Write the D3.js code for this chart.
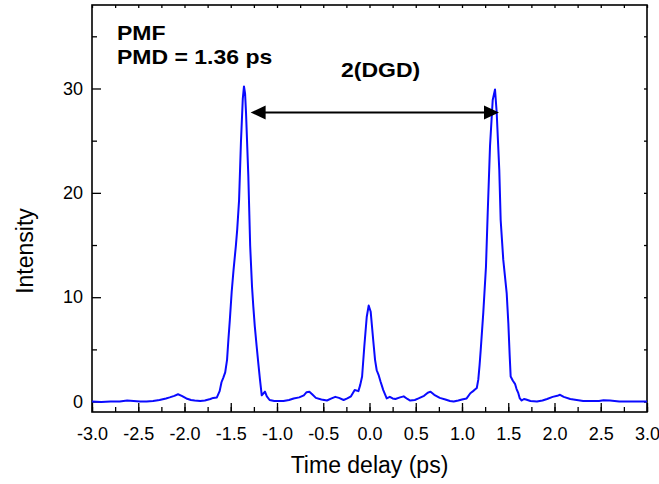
<!DOCTYPE html>
<html>
<head>
<meta charset="utf-8">
<script src="https://cdn.jsdelivr.net/npm/d3@7"></script>
<style>
  body { margin: 0; background: #fff; }
  svg { display: block; font-family: "Liberation Sans", Arial, sans-serif; }
</style>
</head>
<body>
<div id="chart"></div>
<script>
var timeDelay = [
  -3.00, -2.90, -2.80, -2.70, -2.62, -2.55, -2.48, -2.41, -2.34, -2.27,
  -2.20, -2.16, -2.11, -2.07, -2.03, -1.98, -1.93, -1.89, -1.83, -1.78,
  -1.72, -1.69, -1.65, -1.62, -1.60, -1.58, -1.56, -1.54, -1.525, -1.51,
  -1.49, -1.47, -1.445, -1.43, -1.41, -1.39, -1.37, -1.357, -1.345, -1.335,
  -1.31, -1.29, -1.27, -1.256, -1.24, -1.22, -1.20, -1.184, -1.165, -1.15,
  -1.13, -1.11, -1.08, -1.03, -0.98, -0.93, -0.87, -0.82, -0.76, -0.71,
  -0.68, -0.65, -0.62, -0.58, -0.52, -0.46, -0.41, -0.37, -0.33, -0.28,
  -0.24, -0.20, -0.16, -0.12, -0.10, -0.08, -0.056, -0.03, -0.009, 0.013,
  0.04, 0.06, 0.078, 0.10, 0.12, 0.149, 0.186, 0.22, 0.25, 0.28,
  0.33, 0.37, 0.41, 0.44, 0.49, 0.53, 0.59, 0.63, 0.66, 0.70,
  0.76, 0.82, 0.87, 0.91, 0.96, 1.00, 1.05, 1.09, 1.12, 1.14,
  1.16, 1.176, 1.19, 1.202, 1.23, 1.259, 1.278, 1.303, 1.332, 1.357,
  1.375, 1.403, 1.418, 1.446, 1.483, 1.501, 1.515, 1.526, 1.55, 1.573,
  1.59, 1.609, 1.625, 1.645, 1.67, 1.692, 1.74, 1.81, 1.87, 1.92,
  1.98, 2.03, 2.06, 2.10, 2.17, 2.24, 2.31, 2.40, 2.48, 2.53,
  2.60, 2.70, 2.80, 2.90, 3.00
];
var intensity = [
  0.00, -0.05, 0.00, 0.00, 0.10, 0.05, 0.00, 0.00, 0.05, 0.15,
  0.30, 0.40, 0.55, 0.70, 0.55, 0.30, 0.15, 0.10, 0.05, 0.10,
  0.25, 0.35, 0.40, 1.00, 1.85, 2.30, 2.80, 4.00, 6.0, 7.8,
  10.5, 12.6, 14.9, 16.5, 19.3, 24.8, 29.0, 30.2, 29.5, 27.7,
  21.6, 14.9, 11.0, 9.1, 7.2, 5.3, 3.5, 2.1, 0.6, 0.75,
  0.95, 0.5, 0.15, 0.05, 0.05, 0.05, 0.15, 0.30, 0.40, 0.60,
  0.90, 0.95, 0.70, 0.35, 0.20, 0.10, 0.30, 0.45, 0.35, 0.15,
  0.30, 0.50, 1.10, 1.00, 1.60, 2.40, 5.3, 8.1, 9.2, 8.6,
  5.9, 4.0, 3.0, 2.5, 1.9, 1.1, 0.3, 0.45, 0.30, 0.25,
  0.40, 0.50, 0.25, 0.10, 0.15, 0.30, 0.55, 0.85, 0.95, 0.65,
  0.35, 0.20, 0.05, 0.00, 0.10, 0.20, 0.30, 0.80, 1.00, 1.15,
  1.30, 2.1, 3.5, 4.9, 8.5, 12.9, 18.1, 24.5, 28.9, 29.9,
  27.7, 22.2, 17.4, 13.6, 10.4, 7.5, 4.5, 2.4, 2.0, 1.7,
  1.2, 0.8, 0.3, 0.1, 0.25, 0.2, 0.05, 0.00, 0.10, 0.25,
  0.45, 0.55, 0.65, 0.45, 0.25, 0.15, 0.05, 0.05, 0.05, 0.12,
  0.10, 0.00, 0.00, 0.00, 0.00
];

var xTicks = [-3, -2.5, -2, -1.5, -1, -0.5, 0, 0.5, 1, 1.5, 2, 2.5, 3];
var yTicks = [0, 10, 20, 30];

var width = 659;
var height = 484;
var margin = { top: 5, right: 12, bottom: 72, left: 92 };
var plotW = width - margin.left - margin.right;
var plotH = height - margin.top - margin.bottom;

var x = d3.scaleLinear().domain([-3, 3]).range([0, plotW]);
var y = d3.scaleLinear().domain([-1, 38]).range([plotH, 0]);

var svg = d3.select("#chart")
    .append("svg")
    .attr("width", width)
    .attr("height", height);

var g = svg.append("g")
    .attr("transform", "translate(" + margin.left + "," + margin.top + ")");

// minor ticks (bottom / left), inward
g.append("g")
    .attr("transform", "translate(0," + plotH + ")")
    .call(d3.axisBottom(x).tickValues(d3.range(-3, 3.01, 0.25)).tickSize(-5).tickSizeOuter(0).tickFormat(""));
g.append("g")
    .call(d3.axisLeft(y).tickValues([5, 15, 25, 35]).tickSize(-5).tickSizeOuter(0).tickFormat(""));

// major ticks with labels
var xAxis = g.append("g")
    .attr("transform", "translate(0," + plotH + ")")
    .call(d3.axisBottom(x).tickValues(xTicks).tickSize(-9).tickSizeOuter(0).tickPadding(15)
        .tickFormat(function (d) { return d.toFixed(1); }));
var yAxis = g.append("g")
    .call(d3.axisLeft(y).tickValues(yTicks).tickSize(-9).tickSizeOuter(0).tickPadding(9));

// small mirrored ticks on top and right
g.append("g")
    .call(d3.axisTop(x).tickValues(d3.range(-3, 3.01, 0.25)).tickSize(-3).tickSizeOuter(0).tickFormat(""));
g.append("g")
    .attr("transform", "translate(" + plotW + ",0)")
    .call(d3.axisRight(y).tickValues([0, 5, 10, 15, 20, 25, 30, 35]).tickSize(-3).tickSizeOuter(0).tickFormat(""));

g.selectAll(".domain").remove();
g.selectAll(".tick line").attr("stroke", "#000").attr("stroke-width", 1.3);
xAxis.selectAll("text").style("font-size", "18px").attr("fill", "#000");
yAxis.selectAll("text").style("font-size", "18px").attr("fill", "#000");

// frame
g.append("rect")
    .attr("width", plotW)
    .attr("height", plotH)
    .attr("fill", "none")
    .attr("stroke", "#000")
    .attr("stroke-width", 1.6);

// trace
var line = d3.line()
    .x(function (d) { return x(d[0]); })
    .y(function (d) { return y(d[1]); });

g.append("path")
    .datum(d3.zip(timeDelay, intensity))
    .attr("fill", "none")
    .attr("stroke", "#0a0aff")
    .attr("stroke-width", 2)
    .attr("stroke-linejoin", "round")
    .attr("d", line);

// double arrow for 2(DGD)
var ax1 = x(-1.285), ax2 = x(1.40), ay = y(27.7);
g.append("line")
    .attr("x1", ax1 + 10).attr("x2", ax2 - 10)
    .attr("y1", ay).attr("y2", ay)
    .attr("stroke", "#000")
    .attr("stroke-width", 2.2);
g.append("path")
    .attr("d", "M" + ax1 + "," + ay + "l15,-7l0,14z")
    .attr("fill", "#000");
g.append("path")
    .attr("d", "M" + ax2 + "," + ay + "l-15,-7l0,14z")
    .attr("fill", "#000");

// annotations (bold text is a bit wider in the original)
function boldText(txt, px, py) {
    svg.append("text")
        .attr("transform", "translate(" + px + "," + py + ") scale(1.18,1)")
        .style("font-size", "19.5px")
        .style("font-weight", "bold")
        .attr("fill", "#000")
        .text(txt);
}
boldText("PMF", 117, 39.5);
boldText("PMD = 1.36 ps", 117, 64);
boldText("2(DGD)", 341, 76.5);

// axis titles
svg.append("text")
    .attr("x", margin.left + plotW / 2)
    .attr("y", 473)
    .attr("text-anchor", "middle")
    .style("font-size", "23px")
    .attr("fill", "#000")
    .text("Time delay (ps)");

svg.append("text")
    .attr("transform", "translate(33," + (margin.top + y(15) + 6) + ") rotate(-90)")
    .attr("text-anchor", "middle")
    .style("font-size", "23px")
    .attr("fill", "#000")
    .text("Intensity");
</script>
</body>
</html>
